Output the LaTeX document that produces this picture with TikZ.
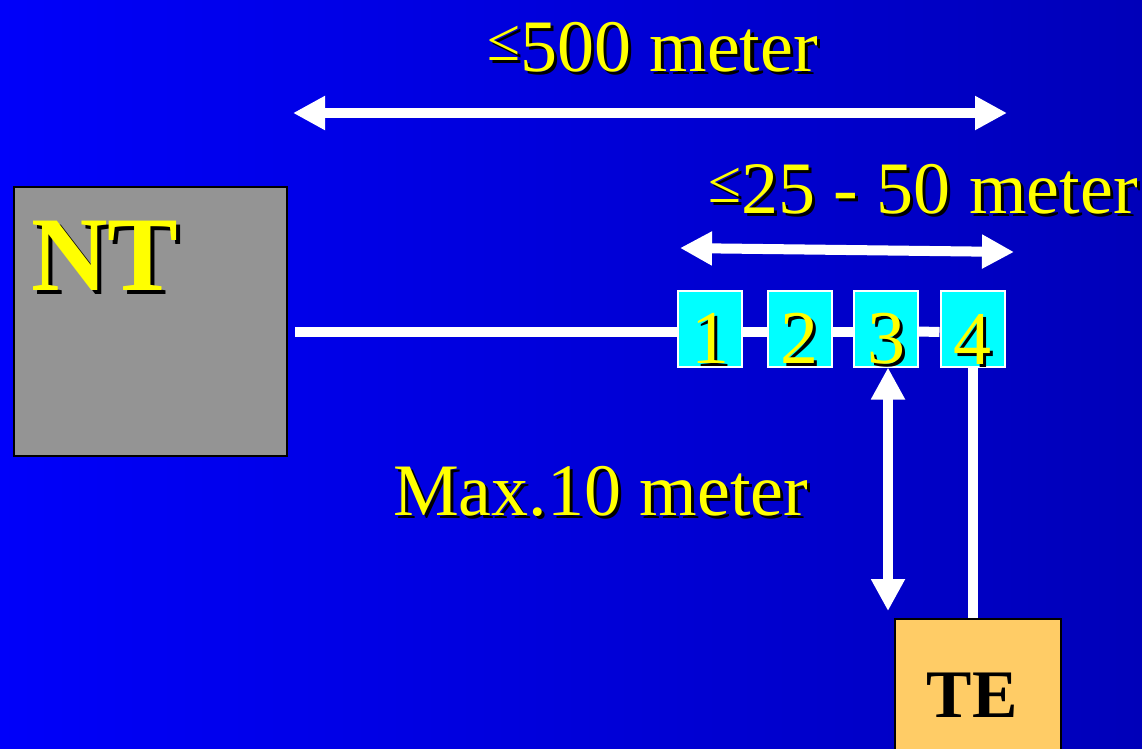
\documentclass[tikz,border=0pt]{standalone}
\usepackage{fontspec}
\setmainfont{Liberation Serif}
\usetikzlibrary{arrows.meta}
\definecolor{bgl}{RGB}{0,0,250}
\definecolor{bgr}{RGB}{0,0,185}
\definecolor{ylw}{RGB}{255,255,0}
\definecolor{ntgray}{RGB}{148,148,148}
\definecolor{tecol}{RGB}{255,204,102}
\definecolor{cyanbox}{RGB}{0,255,255}
\newcommand\shtxt[2][3pt]{\leavevmode\rlap{\kern#1\raisebox{-#1}{\color{black}#2}}#2}
\newcommand\lesym{\raisebox{11pt}{\fontsize{60}{60}\selectfont ≤}}
\begin{document}
\begin{tikzpicture}[x=1pt,y=-1pt,
  lbl/.style={text=ylw, font=\fontsize{74}{74}\selectfont, inner sep=0pt, anchor=base west},
  ntbox/.style={draw=black, line width=2pt, fill=ntgray, minimum width=273pt, minimum height=269pt, inner sep=0pt},
  nttext/.style={text=ylw, font=\fontsize{106}{106}\selectfont\bfseries, inner sep=0pt, anchor=base west},
  numbox/.style={draw=white, line width=2pt, fill=cyanbox, minimum width=64pt, minimum height=76pt, inner sep=0pt,
    text=ylw, font=\fontsize{76}{76}\selectfont, text height=72pt, text depth=2pt},
  tebox/.style={draw=black, line width=2pt, fill=tecol, minimum width=166pt, minimum height=152pt, inner sep=0pt,
    font=\fontsize{68}{68}\selectfont\bfseries},
  wline/.style={draw=white, line width=10pt},
  darrow/.style={wline, {Triangle[length=32pt,width=32pt]}-{Triangle[length=32pt,width=32pt]}}
]
\clip (0,0) rectangle (1142,748);
\shade[left color=bgl, right color=bgr] (0,0) rectangle (1142,748);

% top dimension
\node[lbl] (L500) at (487,71) {\shtxt{\lesym 500 meter}};
\coordinate (a1l) at (293,113);
\coordinate (a1r) at (1007,113);
\draw[darrow] (a1l) -- (a1r);

% second dimension
\node[lbl] (L25) at (708,213) {\shtxt{\lesym 25 - 50 meter}};
\coordinate (a2l) at (680,248);
\coordinate (a2r) at (1014,252);
\draw[darrow] (a2l) -- (a2r);

% NT box
\node[ntbox] (NT) at (150.5,321.5) {};
\node[nttext] (NTl) at (31,290) {\shtxt[4pt]{NT}};

% boxes 1-4
\node[numbox] (b1) at (710,328.5) {\shtxt{1}};
\node[numbox] (b2) at (799.5,328.5) {\shtxt{2}};
\node[numbox] (b3) at (886,328.5) {\shtxt{3}};
\node[numbox] (b4) at (972.5,329) {\shtxt{4}};

\coordinate (lstart) at (295,331.5);
\draw[wline] (lstart) -- ([yshift=-3pt]b1.west);
\draw[wline] ([yshift=-3pt]b1.east) -- ([yshift=-3pt]b2.west);
\draw[wline] ([yshift=-3pt]b2.east) -- ([yshift=-3pt]b3.west);
\draw[wline] ([yshift=-3pt]b3.east) -- ([yshift=-3pt]b4.west);

% TE
\node[tebox] (TE) at (978,695) {TE\kern12pt};
\draw[wline] (b4.south) -- (b4.south |- TE.north);

\coordinate (vend) at (888,611);
\draw[darrow] ([xshift=2pt]b3.south) -- (vend);

\node[lbl] (L10) at (393,515) {\shtxt{Max.10 meter}};
\end{tikzpicture}
\end{document}
